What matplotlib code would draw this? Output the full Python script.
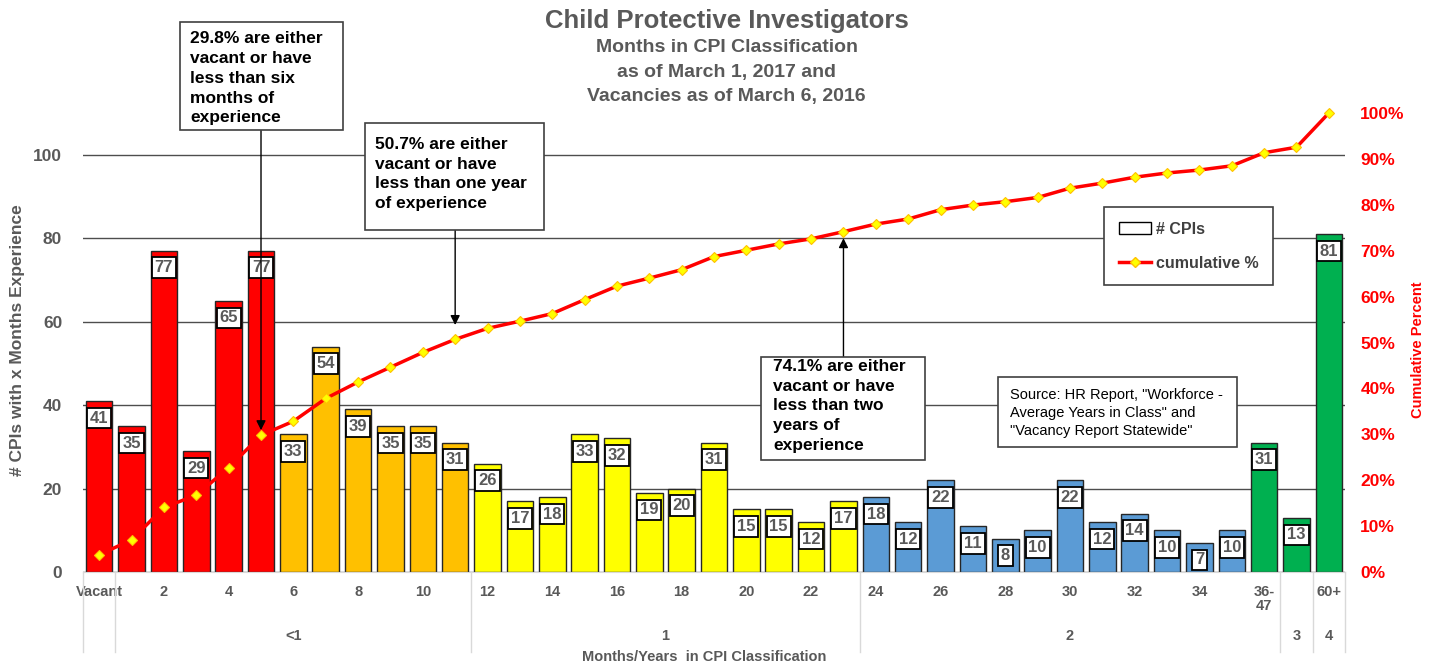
import numpy as np
import matplotlib
matplotlib.use("Agg")
import matplotlib.pyplot as plt
from matplotlib.lines import Line2D
from matplotlib.patches import Patch, Rectangle
from matplotlib.transforms import blended_transform_factory

plt.rcParams["font.family"] = ["Liberation Sans", "DejaVu Sans"]

# CPIs by months in classification (Vacant, 1..35 months, 36-47, 48-59, 60+)
categories = ["Vacant"] + [str(m) for m in range(1, 36)] + ["36-\n47", "48-59", "60+"]
counts = [41, 35, 77, 29, 65, 77, 33, 54, 39, 35, 35, 31,
          26, 17, 18, 33, 32, 19, 20, 31, 15, 15, 12, 17,
          18, 12, 22, 11, 8, 10, 22, 12, 14, 10, 7, 10,
          31, 13, 81]
# colour band per bar: 0 = vacant/<6 mo, 1 = 6-11 mo, 2 = 1 yr, 3 = 2 yr, 4 = 3+ yr
bands = [0] * 6 + [1] * 6 + [2] * 12 + [3] * 12 + [4] * 3
band_colors = ["#FF0000", "#FFC000", "#FFFF00", "#5B9BD5", "#00B050"]

# year groups on the second row of the category axis: (label, first idx, last idx)
year_groups = [("", 0, 0), ("<1", 1, 11), ("1", 12, 23), ("2", 24, 36), ("3", 37, 37), ("4", 38, 38)]

notes = [
    ("29.8% are either\nvacant or have\nless than six\nmonths of\nexperience", 5),
    ("50.7% are either\nvacant or have\nless than one year\nof experience", 11),
    ("74.1% are either\nvacant or have\nless than two\nyears of\nexperience", 23),
]
source = 'Source: HR Report, "Workforce -\nAverage Years in Class" and\n"Vacancy Report Statewide"'

GRAY = "#595959"

counts = np.array(counts)
cum = np.cumsum(counts) / counts.sum()
x = np.arange(len(counts))

fig = plt.figure(figsize=(14.39, 6.66), dpi=100)
ax = fig.add_axes([0.0577, 0.1411, 0.877, 0.6892])
ax2 = ax.twinx()
ax.set_zorder(ax2.get_zorder() - 1)  # keep bars under the line
ax.patch.set_visible(True)
ax2.patch.set_visible(False)

ax.bar(x, counts, width=0.82, color=[band_colors[b] for b in bands],
       edgecolor="#262626", linewidth=1.0, zorder=2)
for xi, v in zip(x, counts):
    ax.text(xi, v - 2.3, str(v), ha="center", va="top", fontsize=12,
            fontweight="bold", color=GRAY, zorder=3,
            bbox=dict(boxstyle="square,pad=0.17", fc="white", ec="black", lw=1.3))

ax.set_xlim(-0.5, len(counts) - 0.5)
ax.set_ylim(0, 110)
ax.set_yticks([0, 20, 40, 60, 80, 100])
ax.grid(axis="y", color="#4d4d4d", lw=1.0, zorder=0)
ax.set_axisbelow(True)
for s in ["left", "right", "top"]:
    ax.spines[s].set_visible(False)
ax.spines["bottom"].set_color("#d9d9d9")
ax.tick_params(axis="y", length=0, pad=15, labelsize=12.5, labelcolor=GRAY)
for t in ax.get_yticklabels():
    t.set_fontweight("bold")

tick_idx = list(range(0, 35, 2)) + [36, 38]
ax.set_xticks(tick_idx)
ax.set_xticklabels([categories[i] for i in tick_idx], fontsize=10.5,
                   fontweight="bold", color=GRAY, linespacing=1.05)
ax.tick_params(axis="x", length=0, pad=9)

# second category row (years) with separators
tr = blended_transform_factory(ax.transData, ax.transAxes)
bounds = sorted({g[1] - 0.5 for g in year_groups} | {year_groups[-1][2] + 0.5})
for b in bounds:
    ax.add_line(Line2D([b, b], [0, -0.174], transform=tr, color="#d9d9d9",
                       lw=1.0, clip_on=False))
for label, i0, i1 in year_groups:
    ax.text((i0 + i1) / 2, -0.139, label, transform=tr, ha="center", va="center",
            fontsize=10.5, fontweight="bold", color=GRAY)

ax.text(0.492, -0.185, "Months/Years  in CPI Classification", transform=ax.transAxes,
        ha="center", va="center", fontsize=10.5, fontweight="bold", color=GRAY)
ax.text(-0.052, 0.505, "# CPIs with x Months Experience", transform=ax.transAxes,
        rotation=90, ha="center", va="center", fontsize=12.5, fontweight="bold", color=GRAY)

# cumulative percent on the right axis
ax2.plot(x, cum, color="#FF0000", lw=2.5, marker="D", markersize=5.5,
         markerfacecolor="#FFFF00", markeredgecolor="#FFC000", markeredgewidth=0.8,
         zorder=4, clip_on=False)
ax2.set_ylim(0, 1.0)
ax2.set_yticks(np.arange(0, 1.01, 0.1))
ax2.set_yticklabels([f"{int(round(p * 100))}%" for p in np.arange(0, 1.01, 0.1)])
ax2.tick_params(axis="y", length=0, pad=11, labelsize=12.5, labelcolor="#FF0000")
for t in ax2.get_yticklabels():
    t.set_fontweight("bold")
for s in ax2.spines.values():
    s.set_visible(False)
ax2.text(1.058, 0.484, "Cumulative Percent", transform=ax2.transAxes, rotation=90,
         ha="center", va="center", fontsize=10.5, fontweight="bold", color="#FF0000")

# callouts pointing at the cumulative line: box (x0, x1, y0, y1), text anchor, arrow
boxes = [(2.50, 7.53, 105.9, 131.8), (8.21, 13.75, 82.0, 107.6), (20.45, 25.52, 26.8, 51.5)]
text_at = [(2.81, 129.6), (8.52, 104.3), (20.82, 51.1)]
arrow_end = [34.0, 59.2, 80.0]
for (txt, xi), (bx0, bx1, by0, by1), (tx, ty), a1 in zip(notes, boxes, text_at, arrow_end):
    ax.annotate("", xy=(xi, a1), xytext=(xi, (by0 + by1) / 2), annotation_clip=False,
                zorder=6, arrowprops=dict(arrowstyle="-|>", color="black", lw=1.0,
                                          mutation_scale=14, shrinkA=0, shrinkB=0))
    ax.add_patch(Rectangle((bx0, by0), bx1 - bx0, by1 - by0, fc="white", ec="#404040",
                           lw=1.2, zorder=7, clip_on=False))
    ax.text(tx, ty, txt, ha="left", va="top", fontsize=12.5, fontweight="bold",
            color="black", linespacing=1.4, zorder=8, clip_on=False)

ax.add_patch(Rectangle((27.78, 30.0), 35.16 - 27.78, 46.7 - 30.0, fc="white",
                       ec="#404040", lw=1.2, zorder=7))
ax.text(28.15, 44.2, source, ha="left", va="top", fontsize=10.5, color="black",
        linespacing=1.4, zorder=8)

handles = [Patch(fc="white", ec="black", lw=1.0),
           Line2D([], [], color="#FF0000", lw=2.5, marker="D", markersize=5.5,
                  markerfacecolor="#FFFF00", markeredgecolor="#FFC000")]
leg = ax2.legend(handles, ["# CPIs", "cumulative %"], loc="upper left",
                 bbox_to_anchor=(0.803, 0.812), frameon=True, fancybox=False,
                 edgecolor="#404040", framealpha=1.0, borderpad=0.9, labelspacing=1.2,
                 handlelength=2.0, handletextpad=0.3,
                 prop=dict(weight="bold", size=11.5))
leg.get_frame().set_linewidth(1.2)
for t in leg.get_texts():
    t.set_color("#404040")

fig.text(0.505, 1 - 21 / 666, "Child Protective Investigators", ha="center", va="center",
         fontsize=18.5, fontweight="bold", color=GRAY)
for yy, line in [(48, "Months in CPI Classification"), (72, "as of March 1, 2017 and"),
                 (96, "Vacancies as of March 6, 2016")]:
    fig.text(0.505, 1 - yy / 666, line, ha="center", va="center",
             fontsize=14, fontweight="bold", color=GRAY)

fig.savefig("out.png", dpi=100)
